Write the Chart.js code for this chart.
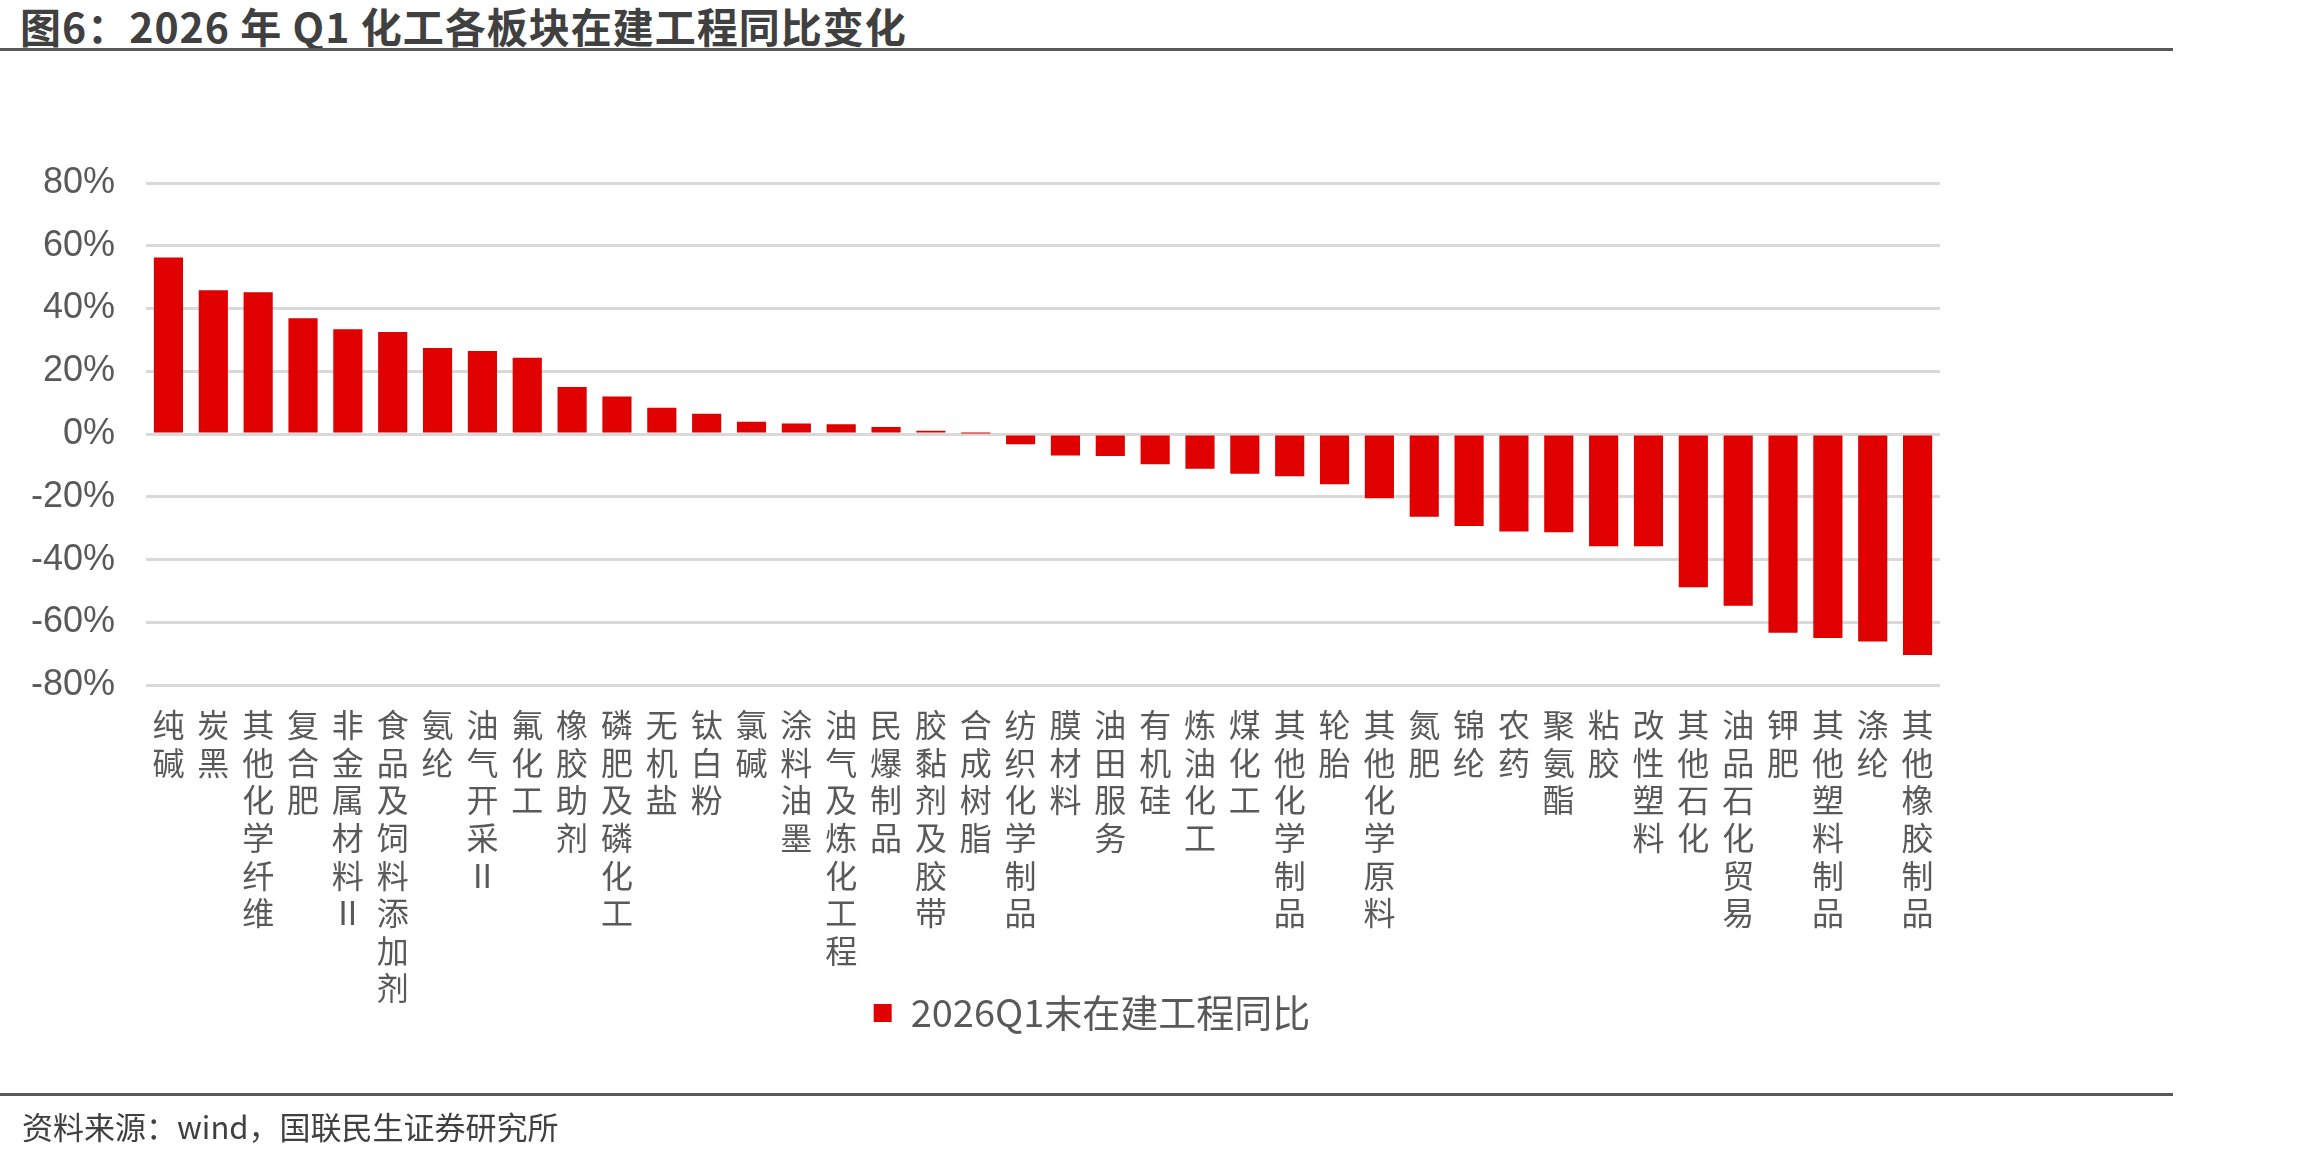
<!DOCTYPE html>
<html>
<head>
<meta charset="utf-8">
<script src="https://cdn.jsdelivr.net/npm/chart.js@4.4.0/dist/chart.umd.min.js"></script>
<style>
  body { margin: 0; width: 2310px; height: 1156px; background: #fff; position: relative; overflow: hidden;
         font-family: "Noto Sans CJK SC", "Noto Sans", sans-serif; }
  .title { position: absolute; left: 20px; top: 0px; font-size: 41px; font-weight: bold; color: #404040;
           letter-spacing: 1px; line-height: 50px; }
  .rule { position: absolute; left: 0; width: 2173px; height: 3px; background: #595959; }
  .source { position: absolute; left: 22px; top: 1105px; font-size: 31px; color: #404040; line-height: 42px; }
  .wrap { position: absolute; left: 0; top: 60px; width: 2184px; height: 1056px; }
</style>
</head>
<body>
<div class="title">图6：2026 年 Q1 化工各板块在建工程同比变化</div>
<div class="rule" style="top:48px"></div>
<div class="wrap"><canvas id="chart"></canvas></div>
<div class="rule" style="top:1093px"></div>
<div class="source">资料来源：wind，国联民生证券研究所</div>
<script>
// 板块名称
const categories = [
    '纯碱', '炭黑', '其他化学纤维', '复合肥', '非金属材料Ⅱ', '食品及饲料添加剂', '氨纶', '油气开采Ⅱ',
    '氟化工', '橡胶助剂', '磷肥及磷化工', '无机盐', '钛白粉', '氯碱', '涂料油墨', '油气及炼化工程',
    '民爆制品', '胶黏剂及胶带', '合成树脂', '纺织化学制品', '膜材料', '油田服务', '有机硅', '炼油化工',
    '煤化工', '其他化学制品', '轮胎', '其他化学原料', '氮肥', '锦纶', '农药', '聚氨酯',
    '粘胶', '改性塑料', '其他石化', '油品石化贸易', '钾肥', '其他塑料制品', '涤纶', '其他橡胶制品'
];

// 2026Q1末在建工程同比 (%)
const yoyValues = [
    56.3, 45.8, 45.2, 36.9, 33.4, 32.5, 27.4, 26.5,
    24.3, 15.0, 12.0, 8.4, 6.5, 3.9, 3.4, 3.1,
    2.3, 1.1, 0.2, -3.2, -6.8, -7.0, -9.6, -11.0,
    -12.6, -13.4, -16.0, -20.4, -26.3, -29.3, -31.0, -31.3,
    -35.7, -35.7, -48.8, -54.7, -63.3, -65.0, -66.1, -70.4
];

const seriesName = '2026Q1末在建工程同比';
const yTicks = [-80, -60, -40, -20, 0, 20, 40, 60, 80];

// vertical labels: one character per line
const verticalLabels = categories.map(s => Array.from(s));

// pull the legend up closer to the category labels
const legendLift = {
    id: 'legendLift',
    afterLayout(chart) {
        if (!chart.legend) return;
        chart.legend.top -= 36;
        chart.legend.bottom -= 36;
    }
};

const ctx = document.getElementById('chart');
new Chart(ctx, {
    type: 'bar',
    data: {
        labels: verticalLabels,
        datasets: [{
            label: seriesName,
            data: yoyValues,
            backgroundColor: '#e00000',
            borderWidth: 0,
            barPercentage: 0.65,
            categoryPercentage: 1
        }]
    },
    plugins: [legendLift],
    options: {
        responsive: true,
        maintainAspectRatio: false,
        animation: false,
        layout: { padding: { left: 0, right: 0, top: 123, bottom: 38 } },
        plugins: {
            tooltip: { enabled: false },
            legend: {
                position: 'bottom',
                labels: {
                    boxWidth: 18,
                    boxHeight: 18,
                    padding: 10,
                    color: '#595959',
                    font: { family: '"Noto Sans CJK SC", Arial', size: 38 }
                }
            }
        },
        scales: {
            x: {
                grid: { display: false },
                border: { display: false },
                ticks: {
                    autoSkip: false,
                    maxRotation: 0,
                    minRotation: 0,
                    padding: 13,
                    color: '#595959',
                    font: { family: '"Noto Sans CJK SC"', size: 32, lineHeight: 1.175 }
                }
            },
            y: {
                min: -80,
                max: 80,
                afterBuildTicks: axis => { axis.ticks = yTicks.map(v => ({ value: v })); },
                grid: { color: '#d9d9d9', lineWidth: 3, drawTicks: false },
                border: { display: false },
                ticks: {
                    padding: 31,
                    color: '#595959',
                    font: { family: 'Arial, "Liberation Sans"', size: 36 },
                    callback: v => v + '%'
                }
            },
            // empty right-hand axis keeps the plot narrower while the legend stays centred on the page
            yRight: {
                position: 'right',
                min: -80,
                max: 80,
                grid: { display: false, drawTicks: false },
                border: { display: false },
                ticks: { display: false },
                afterFit: axis => { axis.width = 244; }
            }
        }
    }
});
</script>
</body>
</html>
